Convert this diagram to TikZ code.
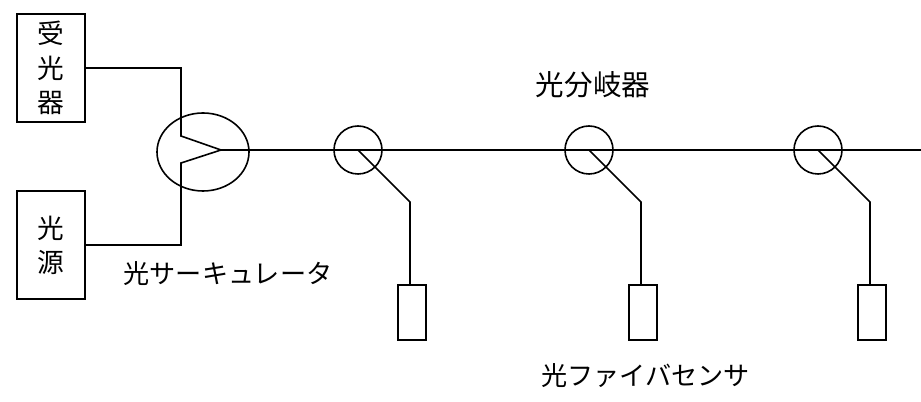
\documentclass[tikz,border=0pt]{standalone}
\usepackage{fontspec}
\usetikzlibrary{shapes.geometric}
\newfontfamily\cjk{Noto Sans CJK JP}
\tikzset{
  x=0.75pt,y=-0.75pt,
  line/.style={draw=black,line width=1.2pt},
  devbox/.style={line,rectangle,inner sep=0pt,outer sep=0pt,minimum width=51pt,minimum height=81pt,align=center,font=\cjk\fontsize{20pt}{25.5pt}\selectfont},
  sensorbox/.style={line,rectangle,inner sep=0pt,outer sep=0pt,minimum width=21pt,minimum height=41.25pt},
  splitter/.style={line,circle,inner sep=0pt,outer sep=0pt,minimum size=36pt},
  lbl/.style={inner sep=0pt,font=\cjk\fontsize{19.6pt}{24pt}\selectfont},
}
\begin{document}
\begin{tikzpicture}
\useasboundingbox (0,0) rectangle (921,402);
\node[devbox] (rx) at (51,68) {\raisebox{1.2pt}{受}\\光\\器};
\node[devbox] (src) at (51,245) {光\\源};
\node[line,ellipse,inner sep=0pt,outer sep=0pt,minimum width=69pt,minimum height=58.5pt] (circ) at (203,152) {};
\coordinate (apex) at (221,150);
\coordinate (rxc) at (181,68);
\coordinate (rxd) at (181,136);
\coordinate (srcc) at (181,245);
\coordinate (srcd) at (181,163);
\coordinate (end) at (921,150);
\draw[line] (rx.east |- rxc) -- (rxc) -- (rxd) -- (apex) -- (srcd) -- (srcc) -- (src.east |- srcc);
\draw[line] (apex) -- (end);
\foreach \n/\cx in {a/358,b/589,c/818}{
  \node[splitter] (sp\n) at (\cx,150) {};
  \coordinate (spc\n) at (\cx,150);
  \coordinate (bend\n) at (\cx+52,202);
  \node[sensorbox] (se\n) at (\cx+54,312.5) {};
  \draw[line] (spc\n) -- (bend\n) -- (bend\n |- se\n.north);
}
\node[lbl,font=\cjk\fontsize{21.4pt}{24pt}\selectfont] (l1) at (593,85) {光分岐器};
\node[lbl] (l2) at (228,274) {光サーキュレータ};
\node[lbl] (l3) at (645.5,376) {光ファイバセンサ};
\end{tikzpicture}
\end{document}
